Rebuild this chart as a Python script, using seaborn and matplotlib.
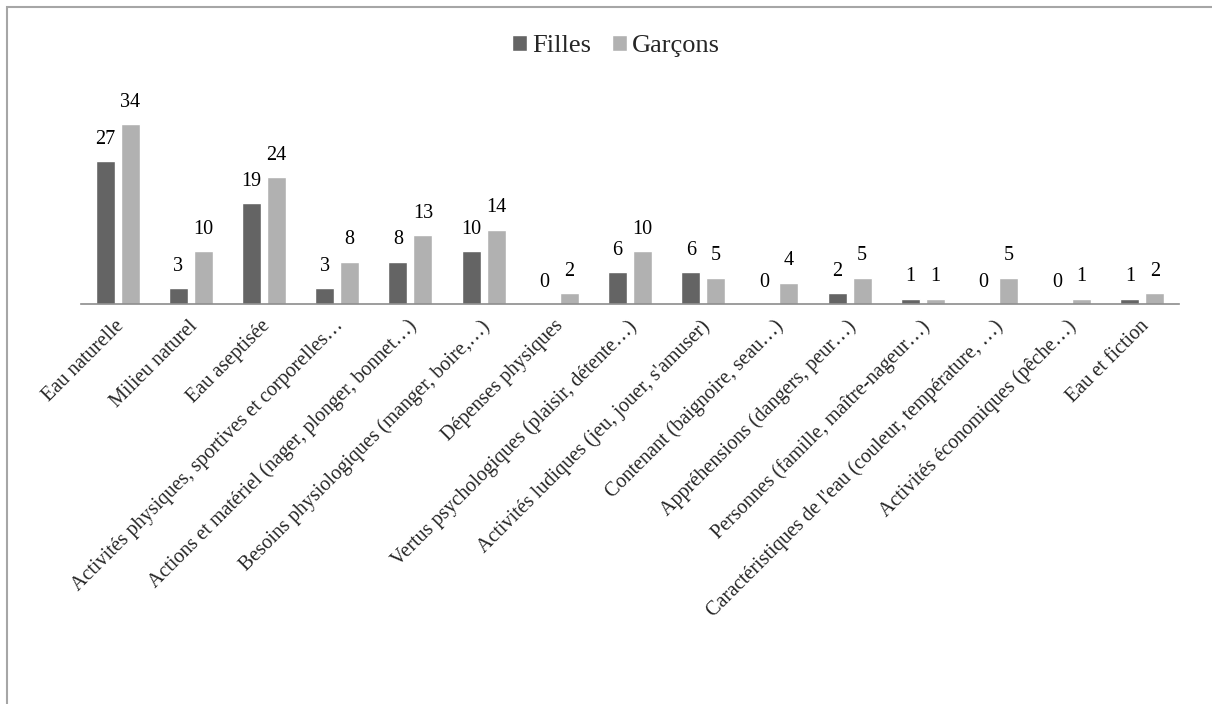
#!/usr/bin/env python

# Importing the Required Libraries
import pandas as pd
import seaborn as sns
import matplotlib.pyplot as plt
from matplotlib.patches import Rectangle
from matplotlib.transforms import ScaledTranslation

# Data
categories = ["Eau naturelle", "Milieu naturel", "Eau aseptisée",
              "Activités physiques, sportives et corporelles…",
              "Actions et matériel (nager, plonger, bonnet…)",
              "Besoins physiologiques (manger, boire,…)",
              "Dépenses physiques",
              "Vertus psychologiques (plaisir, détente…)",
              "Activités ludiques (jeu, jouer, s'amuser)",
              "Contenant (baignoire, seau…)",
              "Appréhensions (dangers, peur…)",
              "Personnes (famille, maître-nageur…)",
              "Caractéristiques de l'eau (couleur, température, …)",
              "Activités économiques (pêche…)",
              "Eau et fiction"]
filles = [27, 3, 19, 3, 8, 10, 0, 6, 6, 0, 2, 1, 0, 0, 1]
garcons = [34, 10, 24, 8, 13, 14, 2, 10, 5, 4, 5, 1, 5, 1, 2]
groups = ["Filles", "Garçons"]
colors = {"Filles": "#646464", "Garçons": "#b1b1b1"}

# Long format table for seaborn
df = pd.DataFrame({
    "categorie": categories * 2,
    "groupe": ["Filles"] * len(categories) + ["Garçons"] * len(categories),
    "valeur": filles + garcons,
})

sns.set_style("white")
plt.rcParams['font.family'] = ['Liberation Serif', 'DejaVu Serif']

fig = plt.figure(figsize=(12.12, 7.04), dpi=100)
ax = fig.add_axes([81 / 1212, 1 - 304 / 704, 1098 / 1212, 211.6 / 704])

sns.barplot(data=df, x="categorie", y="valeur", hue="groupe",
            order=categories, hue_order=groups, palette=colors,
            width=0.68, gap=0.24, saturation=1, ax=ax)

# Value labels above bars
for cont in ax.containers:
    ax.bar_label(cont, fmt='%g', padding=9, fontsize=14.5, color='black')

ax.set_ylim(0, 40)
ax.set_xlim(-0.5, len(categories) - 0.5)
ax.set_xlabel("")
ax.set_ylabel("")
ax.set_yticks([])
for side in ["top", "right", "left"]:
    ax.spines[side].set_visible(False)
ax.spines["bottom"].set_color("#8c8c8c")
ax.spines["bottom"].set_linewidth(1.2)
ax.tick_params(axis='x', length=0, pad=9)
ax.set_xticks(range(len(categories)))
ax.set_xticklabels(categories, rotation=45, ha='right',
                   rotation_mode='anchor', fontsize=14.5)
# nudge the slanted labels a little to the left
shift = ScaledTranslation(-3 / 100, 0, fig.dpi_scale_trans)
for lab in ax.get_xticklabels():
    lab.set_transform(lab.get_transform() + shift)

# Legend on top
ax.legend(loc='center', bbox_to_anchor=(616 / 1212, 1 - 46 / 704),
          bbox_transform=fig.transFigure, ncol=2, frameon=False,
          fontsize=19, handlelength=0.55, handleheight=0.55,
          handletextpad=0.2, columnspacing=0.8)

# Outer frame (top and left edges visible)
fig.patches.append(Rectangle((7 / 1212, -0.1), 1.2, 1 - 7 / 704 + 0.1,
                             transform=fig.transFigure, fill=False,
                             edgecolor="#a6a6a6", linewidth=1.5))

fig.savefig("out.png", dpi=100)
